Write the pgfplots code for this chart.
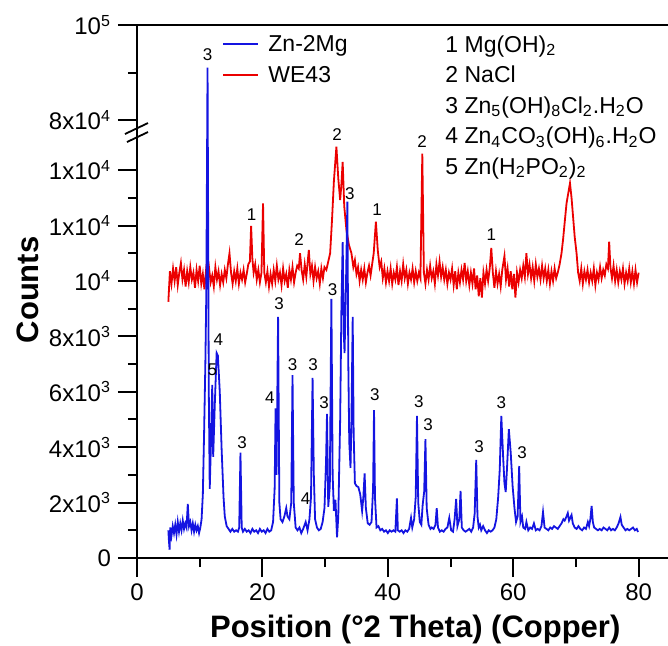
\documentclass[border=0pt]{standalone}
\usepackage{fontspec}
\setmainfont{Liberation Sans}
\usepackage{pgfplots}
\pgfplotsset{compat=1.18}
\definecolor{zblue}{RGB}{20,20,225}
\definecolor{wred}{RGB}{235,0,0}

% blue pattern: Zn-2Mg
\pgfplotstableread{
x y
5.0 1000
5.1 600
5.2 300
5.3 1100
5.5 800
5.7 1150
5.9 900
6.1 1200
6.3 850
6.5 1300
6.7 950
6.9 1250
7.1 1000
7.3 1350
7.5 1050
7.7 1250
7.9 1100
8.1 1950
8.3 1150
8.5 1300
8.7 1000
8.9 1250
9.1 950
9.3 1200
9.5 1000
9.7 1150
9.9 900
10.1 1100
10.3 1400
10.5 2300
10.7 4500
10.9 7000
11.05 9500
11.25 91000
11.45 6000
11.6 2500
11.8 4200
12.0 6250
12.15 3650
12.4 5500
12.7 7400
12.9 7300
13.2 6000
13.5 3900
13.8 2200
14.0 1500
14.3 1150
14.6 1050
14.9 950
15.2 1050
15.5 950
15.8 1000
16.1 950
16.3 1100
16.5 3800
16.7 1100
16.9 950
17.2 1050
17.5 950
17.8 1000
18.1 900
18.4 1050
18.7 950
19.0 1000
19.3 900
19.6 1050
19.9 950
20.2 1000
20.5 900
20.8 1050
21.1 950
21.4 1000
21.7 1300
21.95 2500
22.1 5400
22.25 3000
22.5 8700
22.7 2000
22.9 1400
23.2 1300
23.5 1500
23.8 1800
24.0 1500
24.3 1400
24.6 2000
24.8 6600
25.0 2000
25.3 1100
25.6 1000
25.9 1100
26.2 900
26.5 1050
26.9 1300
27.2 1000
27.5 1400
27.75 2200
28.0 6500
28.2 3000
28.4 1400
28.7 1100
29.0 1000
29.3 1050
29.6 1300
29.9 1800
30.15 3500
30.3 5200
30.5 1850
30.75 2600
31.0 9350
31.2 3000
31.4 1700
31.65 2100
31.9 750
32.1 1500
32.4 5000
32.6 9000
32.8 11400
33.0 8000
33.1 7400
33.3 9500
33.55 12860
33.7 7000
33.85 4200
34.05 3250
34.2 5000
34.4 8700
34.55 4500
34.75 2700
35.0 2600
35.3 2560
35.6 2300
35.9 1700
36.1 2200
36.3 3050
36.5 1800
36.8 1250
37.1 1200
37.4 1300
37.65 2500
37.8 5340
37.95 2200
38.2 1100
38.5 1150
38.8 1000
39.1 1050
39.4 950
39.7 1000
40.0 900
40.3 1000
40.6 950
40.9 1000
41.2 950
41.45 2150
41.6 1000
41.9 950
42.2 1000
42.5 900
42.8 1000
43.1 950
43.4 1050
43.7 1450
43.9 1100
44.2 1400
44.45 2200
44.65 5130
44.85 2000
45.1 1300
45.35 1200
45.55 1900
45.8 2400
46.0 4290
46.2 1800
46.5 1200
46.8 1050
47.0 1100
47.3 1050
47.6 1200
47.8 1800
48.0 1100
48.3 950
48.6 1000
48.9 950
49.2 1050
49.5 1100
49.8 1450
50.1 1000
50.4 950
50.65 1400
50.9 2130
51.1 1150
51.4 1400
51.6 2420
51.8 1100
52.1 1000
52.4 950
52.7 1000
53.0 1050
53.3 950
53.6 1100
53.85 1600
54.1 3540
54.3 1500
54.5 1100
54.7 1200
54.9 1000
55.2 1150
55.5 1000
55.8 900
56.1 1000
56.4 950
56.7 1000
57.0 1100
57.3 1400
57.6 2200
57.85 3200
58.1 5130
58.4 3600
58.6 2700
58.8 2380
59.0 3200
59.3 4650
59.6 3800
59.9 2600
60.2 1800
60.45 1300
60.7 1500
60.95 3320
61.15 1300
61.4 1500
61.6 1100
61.9 1050
62.1 1300
62.4 1000
62.7 1100
63.0 1050
63.3 1250
63.6 1000
63.9 1050
64.2 1000
64.5 1150
64.75 1660
65.0 1100
65.3 1050
65.6 1000
65.9 1100
66.2 1050
66.5 1150
66.8 1100
67.1 1050
67.4 1150
67.7 1250
68.0 1400
68.2 1350
68.5 1500
68.7 1620
68.9 1350
69.1 1450
69.3 1550
69.5 1250
69.8 1100
70.1 1050
70.4 1150
70.7 1050
71.0 1000
71.3 1100
71.6 1050
71.9 1300
72.1 1150
72.3 1400
72.5 1880
72.7 1300
72.9 1100
73.2 1050
73.5 1000
73.8 1050
74.1 1000
74.4 1100
74.7 1050
75.0 1000
75.3 1100
75.6 1000
75.9 1050
76.2 1000
76.5 1100
76.8 1250
77.1 1480
77.3 1200
77.6 1100
77.9 1000
78.2 1050
78.5 1000
78.8 1050
79.1 1100
79.4 1000
79.7 1050
79.9 940
}\zntable

% red pattern: WE43
\pgfplotstableread{
x y
5.00 9250
5.25 10350
5.50 9900
5.75 10450
6.00 10000
6.25 10500
6.50 9850
6.75 10300
7.00 10650
7.25 10050
7.50 10400
7.75 9800
8.00 10350
8.25 9950
8.50 10500
8.75 10050
9.00 10300
9.25 9750
9.50 10400
9.75 10000
10.00 10550
10.25 9900
10.50 10250
10.75 9700
11.00 10350
11.25 10000
11.50 10450
11.75 9950
12.00 10200
12.25 9800
12.50 10500
12.75 10050
13.00 10350
13.25 9850
13.50 10250
13.75 9950
14.00 10400
14.25 10100
14.50 10600
14.75 11000
15.00 10300
15.25 9900
15.50 10350
15.75 10000
16.00 10450
16.25 9900
16.50 10300
16.75 10050
17.00 10400
17.25 9950
17.50 10250
17.75 10600
18.00 10700
18.20 11990
18.40 10800
18.60 10300
18.85 10600
19.10 10050
19.35 10400
19.60 9950
19.85 10300
20.10 12800
20.30 10300
20.55 9950
20.80 10350
21.05 9800
21.30 10250
21.55 9900
21.80 10400
22.05 10000
22.30 10550
22.55 10050
22.80 10300
23.05 9850
23.30 10450
23.55 10000
23.80 10250
24.05 9750
24.30 10400
24.55 10050
24.80 10500
25.05 9950
25.30 10300
25.55 10550
25.80 10450
26.00 11000
26.25 10400
26.50 10050
26.75 10600
27.00 10150
27.40 11120
27.65 10250
27.90 10550
28.15 10000
28.40 10500
28.65 10100
28.90 10350
29.15 9900
29.40 10450
29.65 10100
29.90 10500
30.20 10400
30.50 10700
30.80 11000
31.10 12200
31.40 13600
31.80 14850
32.10 13700
32.40 12920
32.60 13500
32.80 14300
33.05 12700
33.40 11840
33.80 11300
34.20 11000
34.50 10500
34.75 10750
35.00 10250
35.25 10500
35.50 10000
35.75 10400
36.00 10050
36.25 10450
36.50 9950
36.75 10300
37.00 10550
37.25 10200
37.50 10600
37.75 11000
38.10 12140
38.40 11100
38.70 10500
38.95 10700
39.20 10100
39.45 10450
39.70 9950
39.95 10350
40.20 10000
40.45 10450
40.70 9900
40.95 10300
41.20 10050
41.45 10500
41.70 9850
41.95 10350
42.20 10000
42.45 10600
42.70 10100
42.95 10400
43.20 9900
43.45 10300
43.70 10050
43.95 10450
44.20 9950
44.45 10350
44.70 10000
44.95 10300
45.20 10100
45.50 14600
45.75 10300
46.00 9900
46.25 10400
46.50 10050
46.75 10550
47.00 10100
47.25 10350
47.50 9900
47.75 10600
48.00 10200
48.25 10700
48.50 10150
48.75 10500
49.00 10050
49.25 10400
49.50 9900
49.75 10300
50.00 10050
50.25 10450
50.50 9850
50.75 10350
51.00 9700
51.25 10300
51.50 9950
51.75 10400
52.00 10050
52.25 10650
52.50 10000
52.75 10350
53.00 9850
53.25 10300
53.50 9900
53.75 10450
54.00 9700
54.25 10200
54.50 9450
54.75 10100
55.00 9400
55.25 10300
55.50 9900
55.75 10400
56.00 10000
56.25 10450
56.50 11190
56.75 10300
57.00 9750
57.25 10350
57.50 9900
57.75 10250
58.00 9800
58.25 10400
58.60 10900
58.85 10050
59.10 10450
59.35 9800
59.60 10350
59.85 9700
60.10 10250
60.35 9400
60.60 10300
60.85 9950
61.10 10400
61.35 10100
61.60 10550
61.85 10150
62.10 11000
62.35 10250
62.60 10600
62.85 10100
63.10 10500
63.35 10000
63.60 10600
63.85 10150
64.10 10450
64.35 10050
64.60 10550
64.85 10100
65.10 10450
65.35 10000
65.60 10400
65.85 9900
66.10 10350
66.35 10000
66.60 10450
66.85 10100
67.10 10300
67.40 10600
67.70 11000
67.95 11500
68.20 12100
68.50 12800
68.80 13200
69.05 13530
69.30 13000
69.55 12300
69.80 11600
70.10 11000
70.35 10300
70.60 10000
70.85 10450
71.10 9900
71.35 10350
71.60 10050
71.85 10400
72.10 9950
72.35 10300
72.60 10000
72.85 10450
73.10 9850
73.35 10300
73.60 10050
73.85 10500
74.10 10100
74.35 10400
74.60 10200
74.85 10600
75.10 10450
75.30 11420
75.50 10500
75.75 10100
76.00 10550
76.25 10000
76.50 10400
76.75 9950
77.00 10350
77.25 10050
77.50 10450
77.75 9900
78.00 10300
78.25 10000
78.50 10450
78.75 9950
79.00 10350
79.25 9900
79.50 10400
79.75 9950
80.00 10300
}\wetable

\begin{document}
\begin{tikzpicture}[lab/.style={font=\fontsize{8.5}{9}\selectfont, inner sep=0pt}]
\useasboundingbox (-68.5pt,-44pt) rectangle (265.5pt,279pt);
\begin{axis}[
    scale only axis, width=266.5pt, height=266.5pt,
    xmin=0, xmax=85, ymin=0, ymax=100000,
    % broken y axis: linear up to 1.4x10^4, then a compressed band 8x10^4..10^5
    y coord trafo/.code={\begingroup
        \pgfkeys{/pgf/fpu=true,/pgf/fpu/output format=fixed}%
        \pgfmathparse{#1>20000 ? 15810+0.1715*(#1-80000) : #1}%
        \pgfmathsmuggle\pgfmathresult\endgroup},
    y coord inv trafo/.code={\begingroup
        \pgfkeys{/pgf/fpu=true,/pgf/fpu/output format=fixed}%
        \pgfmathparse{#1>15500 ? 80000+(#1-15810)/0.1715 : #1}%
        \pgfmathsmuggle\pgfmathresult\endgroup},
    scaled ticks=false,
    axis x line*=bottom, axis y line*=left,
    axis line style={line width=1pt},
    tick align=outside, major tick length=9.5pt, minor tick length=4.5pt,
    every tick/.style={black, line width=1pt},
    xtick={0,20,40,60,80}, xticklabels={0,20,40,60,80},
    minor xtick={10,30,50,70},
    ytick={0,2000,4000,6000,8000,10000,12000,14000,80000,100000},
    yticklabels={0, 2x10\textsuperscript{3}, 4x10\textsuperscript{3}, 6x10\textsuperscript{3},
        8x10\textsuperscript{3}, 10\textsuperscript{4}, 1x10\textsuperscript{4},
        1x10\textsuperscript{4}, 8x10\textsuperscript{4}, 10\textsuperscript{5}},
    minor ytick={1000,3000,5000,7000,9000,11000,13000,90000},
    ticklabel style={font=\fontsize{12}{12}\selectfont},
    every axis x label/.style={at={(axis description cs:0.522,-0.135)}, anchor=center},
    every axis y label/.style={at={(axis description cs:-0.2045,0.503)}, rotate=90, anchor=center},
    xlabel style={font=\bfseries\fontsize{15.5}{16}\selectfont},
    ylabel style={font=\bfseries\fontsize{15.5}{16}\selectfont},
    xlabel={Position (°2 Theta) (Copper)},
    ylabel={Counts},
    clip=false,
]
\addplot[wred, line width=0.9pt] table {\wetable};
\addplot[zblue, line width=0.9pt] table {\zntable};

\draw[line width=1pt] (rel axis cs:0,1) -- (rel axis cs:1,1);
% axis break marks
\draw[line width=0.9pt] ([xshift=-6pt,yshift=-1pt]rel axis cs:0,0.7992) -- ([xshift=5.5pt,yshift=4.5pt]rel axis cs:0,0.7992);
\draw[line width=0.9pt] ([xshift=-5pt,yshift=-5pt]rel axis cs:0,0.7992) -- ([xshift=5.5pt,yshift=0pt]rel axis cs:0,0.7992);

% legend
\draw[zblue, line width=0.9pt] (rel axis cs:0.1614,0.9644) -- (rel axis cs:0.2270,0.9644);
\draw[wred, line width=0.9pt] (rel axis cs:0.1614,0.9062) -- (rel axis cs:0.2270,0.9062);
\node[anchor=base west, inner sep=0pt, font=\fontsize{11.5}{13}\selectfont] at (rel axis cs:0.2458,0.9503) {Zn-2Mg};
\node[anchor=base west, inner sep=0pt, font=\fontsize{11.5}{13}\selectfont] at (rel axis cs:0.2458,0.8921) {WE43};

% phase key
\node[anchor=north west, align=left, inner sep=0pt, font=\fontsize{11.5}{15.25}\selectfont] at (rel axis cs:0.578,0.981)
  {1 Mg(OH)\textsubscript{2}\\
   2 NaCl\\
   3 Zn\textsubscript{5}(OH)\textsubscript{8}Cl\textsubscript{2}.H\textsubscript{2}O\\
   4 Zn\textsubscript{4}CO\textsubscript{3}(OH)\textsubscript{6}.H\textsubscript{2}O\\
   5 Zn(H\textsubscript{2}PO\textsubscript{2})\textsubscript{2}};

% peak labels, Zn-2Mg
\node[lab] at (axis cs:11.27,93700) {3};
\node[lab] at (axis cs:12.0,6790) {5};
\node[lab] at (axis cs:12.96,7870) {4};
\node[lab] at (axis cs:16.78,4160) {3};
\node[lab] at (axis cs:21.2,5780) {4};
\node[lab] at (axis cs:22.68,9170) {3};
\node[lab] at (axis cs:24.8,6990) {3};
\node[lab] at (axis cs:26.88,2130) {4};
\node[lab] at (axis cs:28.1,6970) {3};
\node[lab] at (axis cs:29.85,5610) {3};
\node[lab] at (axis cs:31.19,9670) {3};
\node[lab] at (axis cs:33.94,13170) {3};
\node[lab] at (axis cs:37.93,5880) {3};
\node[lab] at (axis cs:44.94,5640) {3};
\node[lab] at (axis cs:46.42,4800) {3};
\node[lab] at (axis cs:54.55,4020) {3};
\node[lab] at (axis cs:58.12,5610) {3};
\node[lab] at (axis cs:61.4,3800) {3};
% peak labels, WE43
\node[lab] at (axis cs:18.28,12380) {1};
\node[lab] at (axis cs:25.86,11500) {2};
\node[lab] at (axis cs:31.92,15270) {2};
\node[lab] at (axis cs:38.3,12590) {1};
\node[lab] at (axis cs:45.47,15030) {2};
\node[lab] at (axis cs:56.53,11660) {1};
\end{axis}
\end{tikzpicture}
\end{document}
